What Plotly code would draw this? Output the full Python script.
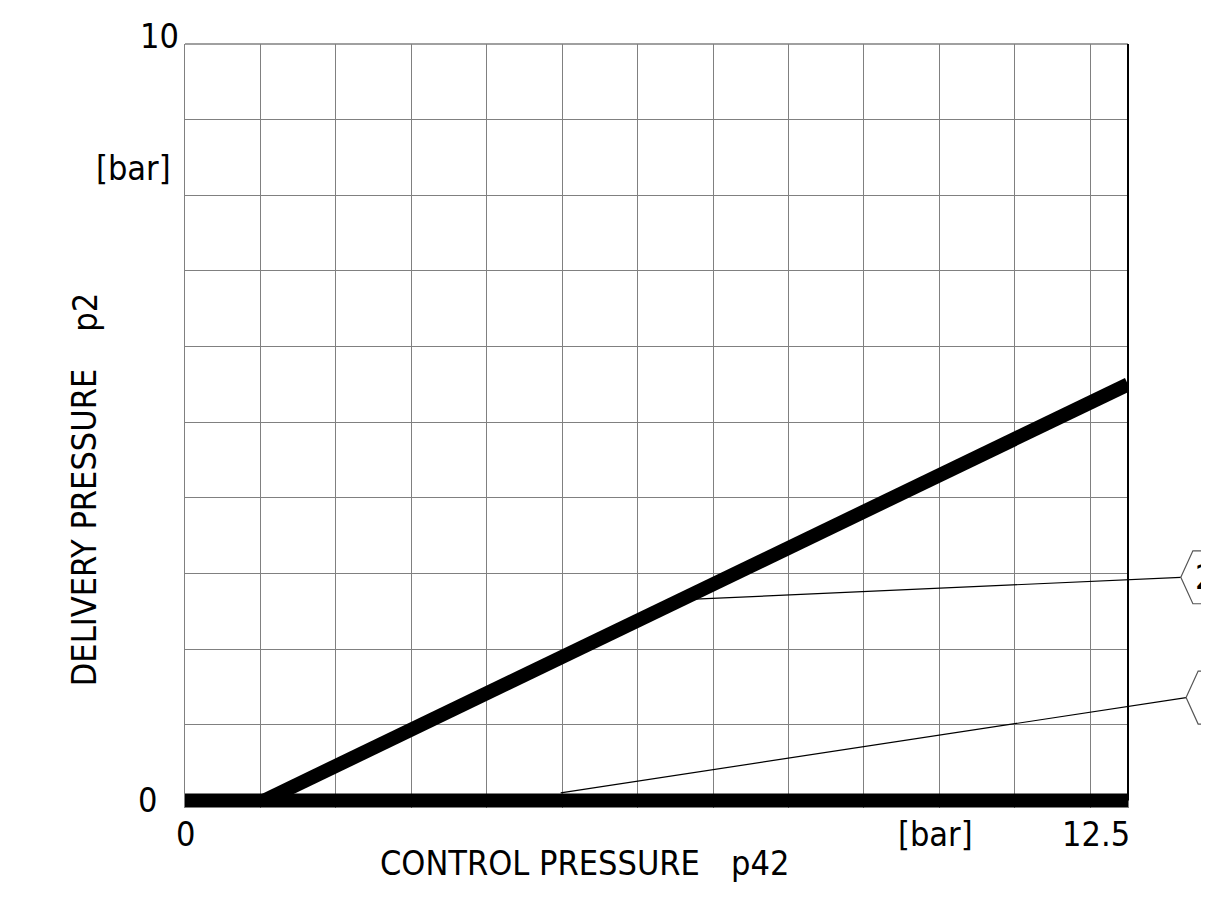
import plotly.graph_objects as go

# ---- data ----
base_x = [0, 12.5]
base_y = [0, 0]
curve_x = [1.05, 12.5]
curve_y = [0, 5.5]

x_range = [0, 12.5]
y_range = [-0.1, 10]

# callouts: (label, start x, start y, hexagon-vertex x, hexagon-vertex y) in data units
callouts = [
    ("2", 6.76, 2.66, 13.20, 2.95),
    ("", 4.98, 0.10, 13.27, 1.36),
]

FONT = "Liberation Sans Narrow, DejaVu Sans Condensed, Arial Narrow, sans-serif"
GRID = "#808080"


def xp(x):
    return (x - x_range[0]) / (x_range[1] - x_range[0])


def yp(y):
    return (y - y_range[0]) / (y_range[1] - y_range[0])


fig = go.Figure()
fig.add_trace(go.Scatter(x=base_x, y=base_y, mode="lines",
                         line=dict(color="black", width=14), hoverinfo="skip"))
fig.add_trace(go.Scatter(x=curve_x, y=curve_y, mode="lines",
                         line=dict(color="black", width=14), hoverinfo="skip"))

shapes = []
shapes.append(dict(type="line", xref="paper", yref="paper", x0=0, x1=1, y0=1, y1=1,
                   line=dict(color=GRID, width=1.5)))
shapes.append(dict(type="line", xref="paper", yref="paper", x0=1, x1=1, y0=yp(0), y1=1,
                   line=dict(color="black", width=2)))

annotations = []
hex_h = 0.35
hex_dx = 0.16
hex_w = 0.85
for label, sx, sy, hx, hy in callouts:
    shapes.append(dict(type="line", xref="paper", yref="paper",
                       x0=xp(sx), y0=yp(sy), x1=xp(hx), y1=yp(hy),
                       line=dict(color="black", width=1.2)))
    pts = [(hx, hy), (hx + hex_dx, hy + hex_h), (hx + hex_dx + hex_w, hy + hex_h),
           (hx + 2 * hex_dx + hex_w, hy), (hx + hex_dx + hex_w, hy - hex_h),
           (hx + hex_dx, hy - hex_h)]
    path = "M " + " L ".join(f"{xp(a):.5f},{yp(b):.5f}" for a, b in pts) + " Z"
    shapes.append(dict(type="path", xref="paper", yref="paper", path=path,
                       line=dict(color="#555555", width=1.2)))
    if label:
        annotations.append(dict(text=label, xref="paper", yref="paper",
                                x=xp(hx + hex_dx + 0.02), y=yp(hy), xanchor="left",
                                yanchor="middle", showarrow=False, borderpad=0,
                                font=dict(size=34, color="black", family=FONT)))


def txt(text, x, y, xanchor="center", yanchor="middle", angle=0, size=34):
    annotations.append(dict(text=text, xref="paper", yref="paper", x=x, y=y,
                            xanchor=xanchor, yanchor=yanchor, textangle=angle,
                            showarrow=False,
                            font=dict(size=size, color="black", family=FONT)))


txt("10", xp(0) - 0.004, yp(10) + 0.010, xanchor="right")
txt("[bar]", xp(0) - 0.013, yp(8.36), xanchor="right")
txt("0", xp(0) - 0.028, yp(0), xanchor="right")
txt("0", xp(0), yp(0) - 0.044)
txt("[bar]", xp(9.95), yp(0) - 0.044)
txt("12.5", xp(12.08), yp(0) - 0.044)
txt("CONTROL PRESSURE", xp(4.7), yp(0) - 0.082)
txt("p42", xp(7.62), yp(0) - 0.082)
txt("DELIVERY PRESSURE", -0.107, yp(3.6), angle=-90)
txt("p2", -0.107, yp(6.45), angle=-90)

fig.update_layout(
    width=1201, height=891,
    margin=dict(l=177, r=81, t=36, b=91),
    plot_bgcolor="white", paper_bgcolor="white",
    showlegend=False,
    shapes=shapes, annotations=annotations,
    xaxis=dict(range=x_range, dtick=1, tick0=0, showgrid=True, gridcolor=GRID,
               gridwidth=1, zeroline=False, showticklabels=False, showline=False,
               ticks="", fixedrange=True),
    yaxis=dict(range=y_range, dtick=1, tick0=0, showgrid=True, gridcolor=GRID,
               gridwidth=1, zeroline=False, showticklabels=False, showline=True,
               mirror=True, linecolor=GRID, linewidth=1, ticks="", fixedrange=True),
)

fig.write_html("out.html")
